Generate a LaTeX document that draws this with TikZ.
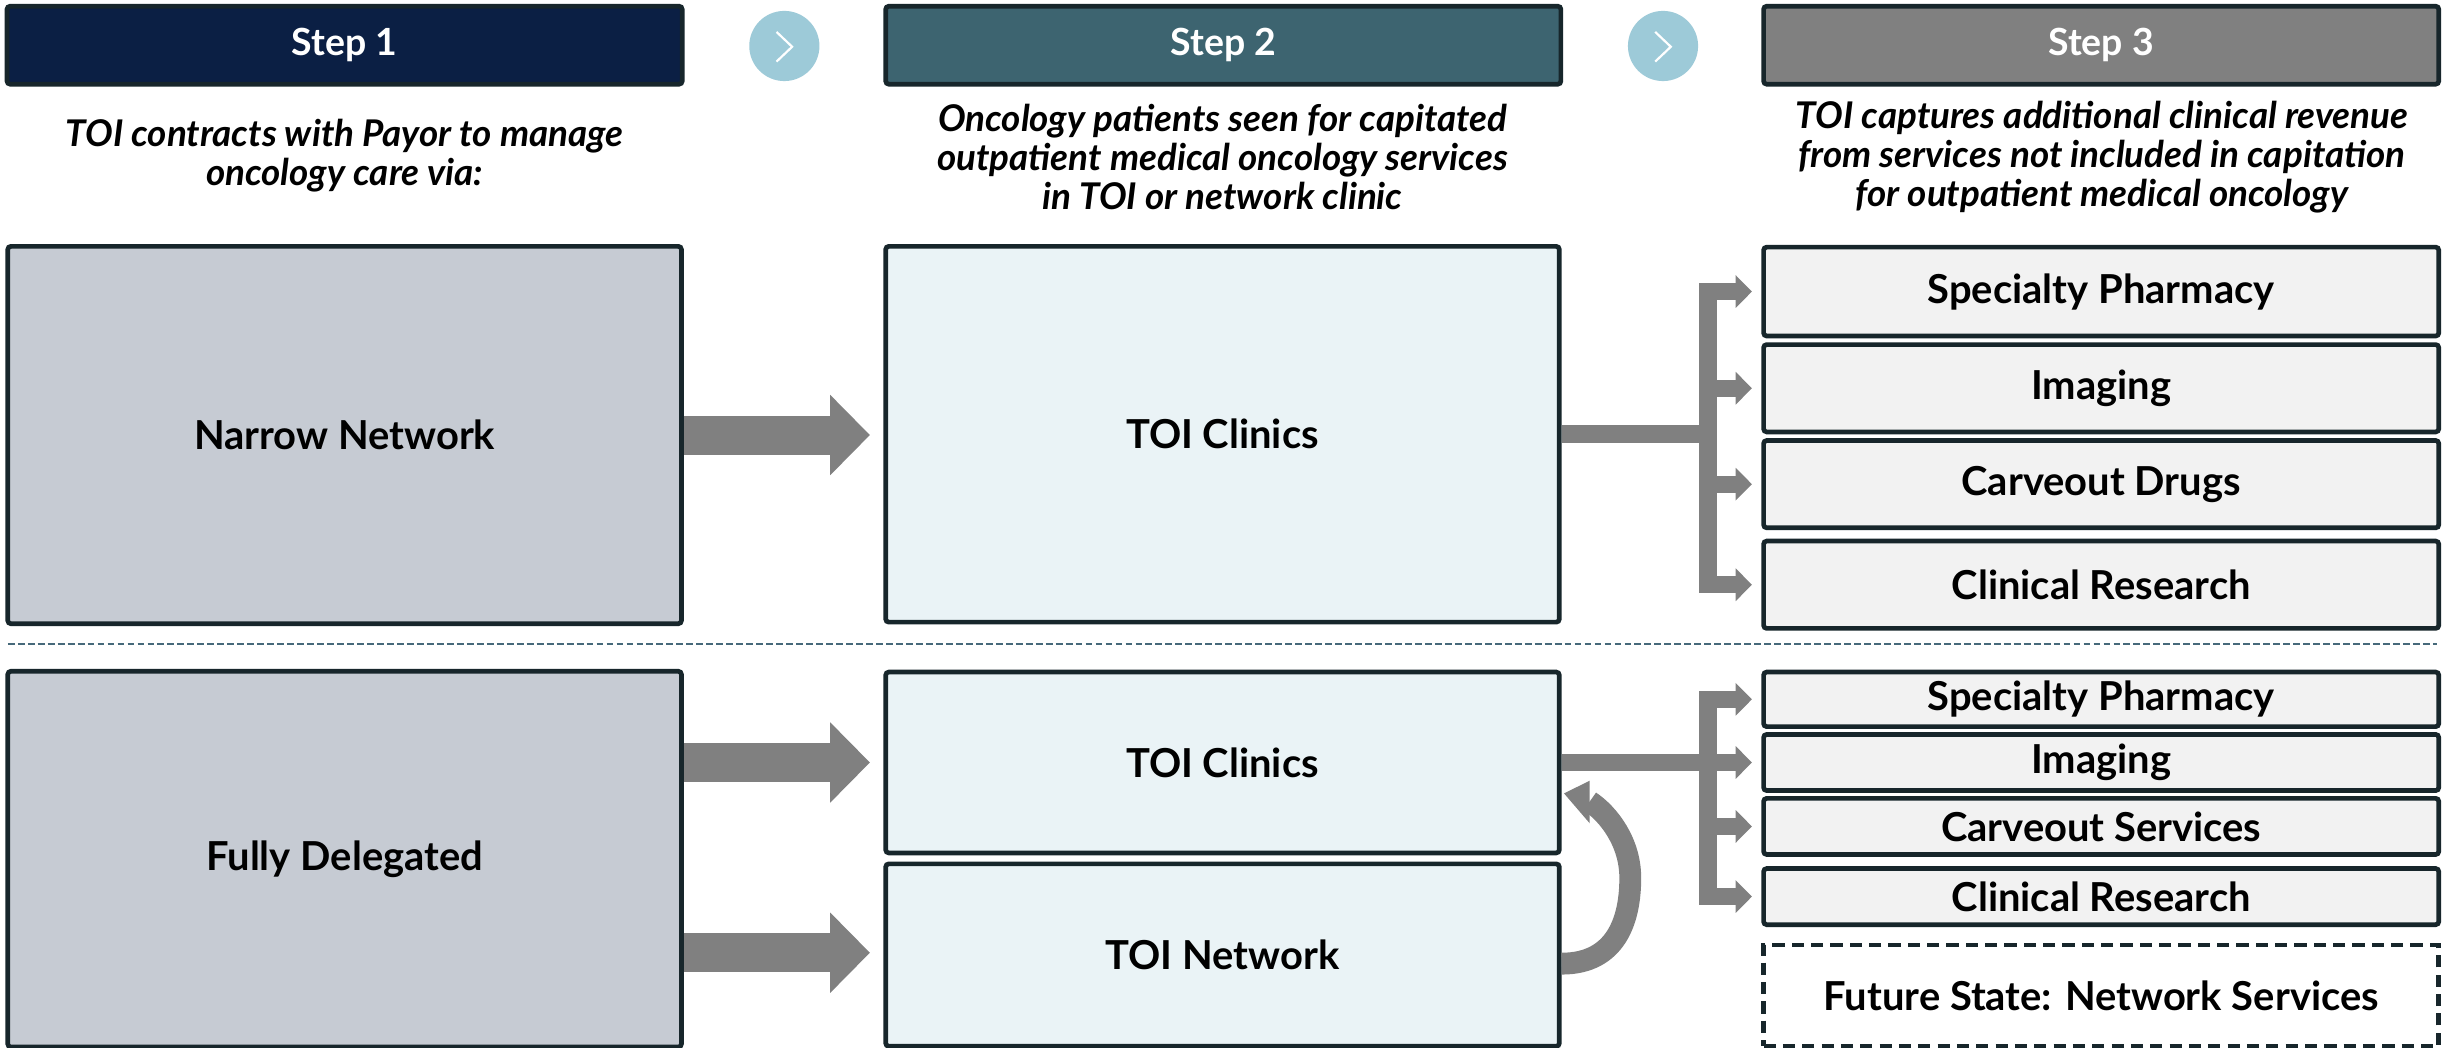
\documentclass[tikz,border=0pt]{standalone}
\usepackage{fontspec}
\setmainfont{Lato}
\usetikzlibrary{arrows.meta,calc}
\definecolor{navy}{HTML}{0B1F44}
\definecolor{teal2}{HTML}{3D6470}
\definecolor{gray3}{HTML}{808080}
\definecolor{edge}{HTML}{17262B}
\definecolor{circ}{HTML}{9DCAD8}
\definecolor{leftfill}{HTML}{C6CBD3}
\definecolor{midfill}{HTML}{EAF3F6}
\definecolor{rightfill}{HTML}{F2F2F2}
\definecolor{arrowgray}{HTML}{808080}
\definecolor{sepcol}{HTML}{46697A}
\begin{document}
\begin{tikzpicture}[x=0.5pt,y=-0.5pt,
  hdr/.style={draw=edge, line width=1.5pt, rounded corners=1pt, text=white,
    font=\bfseries\fontsize{12}{14}\selectfont, minimum height=25pt, minimum width=216.5pt, inner sep=0pt},
  box/.style={draw=edge, line width=1.5pt, rounded corners=1pt,
    font=\bfseries\fontsize{12.8}{14}\selectfont, inner sep=0pt},
  sub/.style={font=\bfseries\itshape\fontsize{11.8}{12.5}\selectfont, align=center},
  big/.style={draw=arrowgray, line width=12.5pt, -{Triangle[length=12.75pt,width=25pt]}, shorten >=4.3pt},
  small/.style={draw=arrowgray, line width=5.5pt, -{Triangle[length=5.2pt,width=10.2pt]}, shorten >=3pt},
  trunk/.style={draw=arrowgray, line width=5.75pt},
  chev/.style={draw=white, line width=0.7pt}
]
\fill[white] (0,0) rectangle (1568,672);
\useasboundingbox (0,0) rectangle (1568,672);

% headers
\node[hdr, fill=navy] (h1) at (221,29) {Step 1};
\node[hdr, fill=teal2] (h2) at (784.5,29) {Step 2};
\node[hdr, fill=gray3] (h3) at (1347.5,29) {Step 3};

% circles with chevrons
\node[circle, fill=circ, minimum size=22.5pt, inner sep=0pt] (c1) at (503,29.5) {};
\node[circle, fill=circ, minimum size=22.5pt, inner sep=0pt] (c2) at (1066.5,29.5) {};
\draw[chev] ([shift={(-5,-9)}]c1.center) -- ([shift={(5,0.5)}]c1.center) -- ([shift={(-5,10)}]c1.center);
\draw[chev] ([shift={(-5,-9)}]c2.center) -- ([shift={(5,0.5)}]c2.center) -- ([shift={(-5,10)}]c2.center);

% subtitles
\node[sub] (s1) at (221,100) {TOI contracts with Payor to manage\\oncology care via:};
\node[sub] (s2) at (784,100.5) {Oncology patients seen for capitated\\outpatient medical oncology services\\in TOI or network clinic};
\node[sub] (s3) at (1348,100.5) {TOI captures additional clinical revenue\\from services not included in capitation\\for outpatient medical oncology};

% top row
\node[box, fill=leftfill, minimum width=216pt, minimum height=121pt] (nn) at (221,279) {Narrow Network};
\node[box, fill=midfill, minimum width=216pt, minimum height=120.5pt] (tc1) at (784,278.5) {TOI Clinics};
\node[box, fill=rightfill, minimum width=216.5pt, minimum height=28.5pt] (sp1) at (1347.5,187) {Specialty Pharmacy};
\node[box, fill=rightfill, minimum width=216.5pt, minimum height=28pt] (im1) at (1347.5,249) {Imaging};
\node[box, fill=rightfill, minimum width=216.5pt, minimum height=28pt] (cd1) at (1347.5,310.5) {Carveout Drugs};
\node[box, fill=rightfill, minimum width=216.5pt, minimum height=28pt] (cr1) at (1347.5,375) {Clinical Research};

% separator
\draw[sepcol, line width=0.7pt, dash pattern=on 2.2pt off 1pt] (5,413) -- (1563,413);

% bottom row
\node[box, fill=leftfill, minimum width=216pt, minimum height=120.5pt] (fd) at (221,551) {Fully Delegated};
\node[box, fill=midfill, minimum width=216pt, minimum height=58pt] (tc2) at (784,489) {TOI Clinics};
\node[box, fill=midfill, minimum width=216pt, minimum height=58.5pt] (tn) at (784,612.5) {TOI Network};
\node[box, fill=rightfill, minimum width=216.5pt, minimum height=17.5pt] (sp2) at (1347.5,448.5) {Specialty Pharmacy};
\node[box, fill=rightfill, minimum width=216.5pt, minimum height=18pt] (im2) at (1347.5,489) {Imaging};
\node[box, fill=rightfill, minimum width=216.5pt, minimum height=18pt] (cs2) at (1347.5,530) {Carveout Services};
\node[box, fill=rightfill, minimum width=216.5pt, minimum height=18pt] (cr2) at (1347.5,575) {Clinical Research};
\node[box, fill=white, dash pattern=on 3.9pt off 2.3pt, rounded corners=0pt, minimum width=216.5pt, minimum height=32.5pt] (fs) at (1347.5,638.5) {Future State: Network Services};

% big arrows
\draw[big] (nn.east) -- (nn.east -| tc1.west);
\draw[big] (fd.east |- tc2.west) -- (tc2.west);
\draw[big] ([yshift=0.75pt]fd.east |- tn.west) -- ([yshift=0.75pt]tn.west);

% top branch
\path (tc1.east) ++(94,0) coordinate (j1);
\draw[trunk] (tc1.east) -- (j1);
\draw[trunk] ($(j1 |- sp1.west)+(0,-5.5)$) -- ($(j1 |- cr1.west)+(0,5.5)$);
\draw[small] ($(j1 |- sp1.west)+(-5.75,0)$) -- (sp1.west);
\draw[small] ($(j1 |- im1.west)+(-5.75,0)$) -- (im1.west);
\draw[small] ($(j1 |- cd1.west)+(-5.75,0)$) -- (cd1.west);
\draw[small] ($(j1 |- cr1.west)+(-5.75,0)$) -- (cr1.west);

% bottom branch
\path (tc2.east) ++(94,0) coordinate (j2);
\draw[trunk] (tc2.east) -- (j2);
\draw[trunk] ($(j2 |- sp2.west)+(0,-5.5)$) -- ($(j2 |- cr2.west)+(0,5.5)$);
\draw[small] ($(j2 |- sp2.west)+(-5.75,0)$) -- (sp2.west);
\draw[small] ($(j2 |- im2.west)+(-5.75,0)$) -- (im2.west);
\draw[small] ($(j2 |- cs2.west)+(-5.75,0)$) -- (cs2.west);
\draw[small] ($(j2 |- cr2.west)+(-5.75,0)$) -- (cr2.west);

% curved arrow from TOI Network back to TOI Clinics
\coordinate (cb) at ([shift={(18,25)}]tc2.east);
\coordinate (cm) at ([shift={(44,74)}]tc2.east);
\draw[arrowgray, line width=7pt] ([yshift=-2.75pt]tn.east) .. controls +(35,0) and +(0,27) .. (cm) .. controls +(0,-23) and +(12,8) .. (cb);
\fill[arrowgray] ([shift={(18,11.7)}]tc2.east) -- ([shift={(1.5,19.8)}]tc2.east) -- ([shift={(18,39)}]tc2.east) -- cycle;
\end{tikzpicture}
\end{document}
